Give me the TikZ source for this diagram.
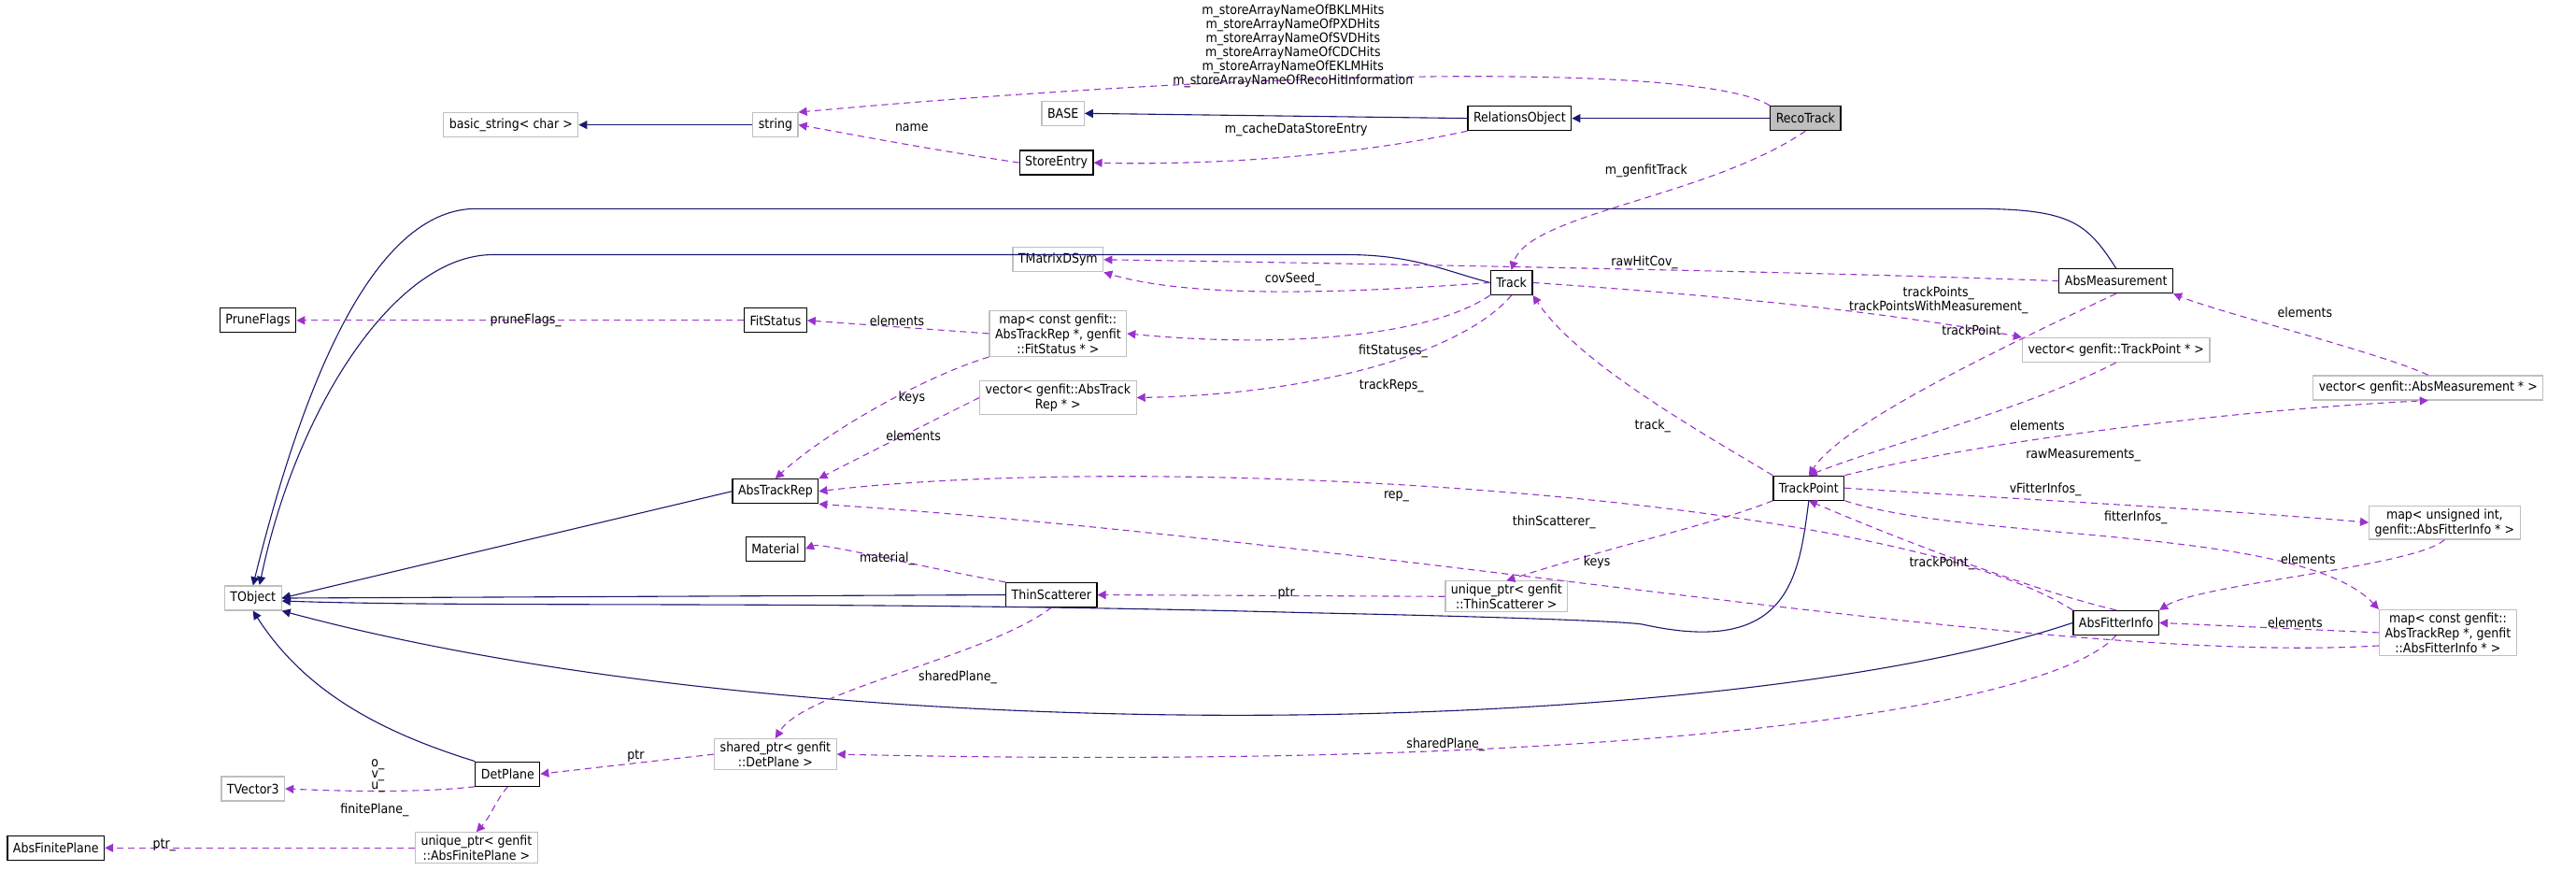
\documentclass[tikz,border=0pt]{standalone}
\usepackage{fontspec}
\setmainfont{DejaVu Sans Condensed}
\usetikzlibrary{arrows.meta}
\definecolor{inhc}{HTML}{191970}
\definecolor{memc}{HTML}{9A32CD}
\definecolor{gb}{HTML}{BFBFBF}
\begin{document}
\begin{tikzpicture}[x=1.7583pt,y=-1.7583pt,
  every node/.style={font=\fontsize{14}{16}\selectfont},
  box/.style={draw,line width=1.2pt,inner xsep=6pt,inner ysep=3pt,minimum height=26pt,fill=white,align=center},
  gbox/.style={box,draw=gb},
  bbox/.style={box,draw=black},
  inh/.style={draw=inhc,line width=1.1pt,-{Triangle[length=9pt,width=9pt]}},
  mem/.style={draw=memc,line width=1.1pt,dash pattern=on 7pt off 5pt,-{Triangle[length=9pt,width=9pt]}},
  lab/.style={fill=none,inner sep=1pt,align=center}]
\useasboundingbox (0,0) rectangle (1568,530);
% nodes
\node[gbox] (bstr) at (311,76) {basic\_string< char >};
\node[gbox] (str) at (472,76) {string};
\node[gbox] (base) at (647,69) {BASE};
\node[bbox] (se) at (643,99) {StoreEntry};
\node[bbox] (ro) at (925,72) {RelationsObject};
\node[bbox,fill=gb] (rt) at (1099,72) {RecoTrack};
\node[gbox] (tmd) at (644,158) {TMatrixDSym};
\node[bbox] (am) at (1288,171) {AbsMeasurement};
\node[bbox] (pf) at (157,195) {PruneFlags};
\node[bbox] (fs) at (472,195) {FitStatus};
\node[gbox] (mfs) at (644,203) {map< const genfit::\\AbsTrackRep *, genfit\\::FitStatus * >};
\node[bbox] (tr) at (920,172) {Track};
\node[gbox] (vtp) at (1288,213) {vector< genfit::TrackPoint * >};
\node[gbox] (vam) at (1478,236) {vector< genfit::AbsMeasurement * >};
\node[gbox] (vatr) at (644,242) {vector< genfit::AbsTrack\\Rep * >};
\node[bbox] (atr) at (472,299) {AbsTrackRep};
\node[bbox] (tp) at (1101,297) {TrackPoint};
\node[bbox] (mat) at (472,334) {Material};
\node[gbox] (tob) at (154,364) {TObject};
\node[bbox] (ts) at (640,362) {ThinScatterer};
\node[gbox] (uts) at (917,363) {unique\_ptr< genfit\\::ThinScatterer >};
\node[gbox] (mui) at (1488,318) {map< unsigned int,\\ genfit::AbsFitterInfo * >};
\node[bbox] (afi) at (1288,379) {AbsFitterInfo};
\node[gbox] (mcf) at (1490,385) {map< const genfit::\\AbsTrackRep *, genfit\\::AbsFitterInfo * >};
\node[gbox] (sdp) at (472,459) {shared\_ptr< genfit\\::DetPlane >};
\node[bbox] (dp) at (309,471) {DetPlane};
\node[gbox] (tv3) at (154,480) {TVector3};
\node[gbox] (ufp) at (290,516) {unique\_ptr< genfit\\::AbsFinitePlane >};
\node[bbox] (afp) at (34,516) {AbsFinitePlane};
% inheritance
\draw[inh] (str) -- (bstr);
\draw[inh] (ro.west) -- (base.east);
\draw[inh] (rt) -- (ro);
\draw[inh] (am.north) .. controls (1270,135) and (1260,127) .. (1200,127) -- (290,127) .. controls (250,127) and (200,170) .. (tob.north);
\draw[inh] (tr.west) .. controls (880,165) and (860,155) .. (820,155) -- (300,155) .. controls (240,155) and (180,250) .. (158,356);
\draw[inh] (atr.west) -- (tob.east);
\draw[inh] (ts.west) -- (tob.east);
\draw[inh] (tp.south) .. controls (1095,350) and (1090,400) .. (1000,380) .. controls (990,378) and (900,375) .. (800,373) .. controls (500,365) and (300,370) .. ([yshift=-3pt]tob.east);
\draw[inh] (afi.west) .. controls (1050,450) and (500,460) .. (tob.south east);
\draw[inh] (dp.north west) .. controls (230,445) and (185,420) .. (tob.south);
% members
\draw[mem] (rt.north west) .. controls (1040,40) and (800,40) .. (str.north east);
\node[lab,font=\fontsize{14}{12}\selectfont] at (787,28) {m\_storeArrayNameOfBKLMHits\\m\_storeArrayNameOfPXDHits\\m\_storeArrayNameOfSVDHits\\m\_storeArrayNameOfCDCHits\\m\_storeArrayNameOfEKLMHits\\m\_storeArrayNameOfRecoHitInformation};
\draw[mem] (ro.south west) .. controls (800,100) and (700,100) .. (se.east);
\node[lab] at (789,79) {m\_cacheDataStoreEntry};
\draw[mem] (se.west) .. controls (560,90) and (520,82) .. (str.east);
\node[lab] at (555,78) {name};
\draw[mem] (rt.south) .. controls (1040,120) and (930,130) .. (tr.north);
\node[lab] at (1002,104) {m\_genfitTrack};
\draw[mem] (am.west) .. controls (1100,165) and (800,160) .. (tmd.east);
\node[lab] at (1001,160) {rawHitCov\_};
\draw[mem] (tr.west) .. controls (800,180) and (720,180) .. (tmd.south east);
\node[lab] at (787,170) {covSeed\_};
\draw[mem] (tr.east) .. controls (1050,180) and (1150,190) .. (vtp.north west);
\node[lab,font=\fontsize{14}{13}\selectfont] at (1180,183) {trackPoints\_\\trackPointsWithMeasurement\_};
\draw[mem] (tr.south west) .. controls (870,205) and (780,212) .. (mfs.east);
\node[lab] at (848,214) {fitStatuses\_};
\draw[mem] (tr.south) .. controls (890,215) and (800,240) .. (vatr.east);
\node[lab] at (847,235) {trackReps\_};
\draw[mem] (mfs.west) -- (fs.east);
\node[lab] at (546,195) {elements};
\draw[mem] (mfs.south west) .. controls (560,230) and (500,265) .. (atr.north);
\node[lab] at (555,242) {keys};
\draw[mem] (vatr.west) .. controls (560,260) and (520,280) .. (atr.north east);
\node[lab] at (556,265) {elements};
\draw[mem] (fs.west) -- (pf.east);
\node[lab] at (320,195) {pruneFlags\_};
\draw[mem] (am.south) .. controls (1200,220) and (1120,260) .. (tp.north);
\node[lab] at (1200,201) {trackPoint};
\draw[mem] (vam.north) .. controls (1450,215) and (1350,190) .. (am.south east);
\node[lab] at (1403,190) {elements};
\draw[mem] (tp.north west) .. controls (1030,260) and (960,220) .. (tr.south east);
\node[lab] at (1006,259) {track\_};
\draw[mem] (vtp.south) .. controls (1230,250) and (1150,270) .. (tp.north);
\node[lab] at (1240,259) {elements};
\draw[mem] (tp.north east) .. controls (1200,270) and (1350,250) .. (vam.south);
\node[lab] at (1268,277) {rawMeasurements\_};
\draw[mem] (afi.north west) .. controls (1150,300) and (700,275) .. (atr.east);
\node[lab] at (850,302) {rep\_};
\draw[mem] (tp.south west) .. controls (1040,320) and (990,330) .. (uts.north);
\node[lab] at (946,318) {thinScatterer\_};
\draw[mem] (tp.east) .. controls (1250,305) and (1350,310) .. (mui.west);
\node[lab] at (1245,298) {vFitterInfos\_};
\draw[mem] (tp.south east) .. controls (1200,330) and (1400,320) .. (mcf.north west);
\node[lab] at (1300,315) {fitterInfos\_};
\draw[mem] (mui.south) .. controls (1470,345) and (1340,355) .. (afi.north east);
\node[lab] at (1405,340) {elements};
\draw[mem] (mcf.west) -- (afi.east);
\node[lab] at (1397,379) {elements};
\draw[mem] ([yshift=-14pt]mcf.west) .. controls (1250,405) and (850,330) .. (atr.south east);
\node[lab] at (972,342) {keys};
\draw[mem] (afi.north) .. controls (1240,360) and (1160,330) .. (tp.south);
\node[lab] at (1182,343) {trackPoint\_};
\draw[mem] (ts.north west) .. controls (560,345) and (500,330) .. (mat.east);
\node[lab] at (540,340) {material\_};
\draw[mem] (uts.west) -- (ts.east);
\node[lab] at (783,361) {ptr};
\draw[mem] (ts.south) .. controls (600,400) and (490,420) .. (sdp.north);
\node[lab] at (583,412) {sharedPlane\_};
\draw[mem] (afi.south) .. controls (1250,430) and (1000,470) .. (sdp.east);
\node[lab] at (880,453) {sharedPlane\_};
\draw[mem] (sdp.west) -- (dp.east);
\node[lab] at (387,460) {ptr};
\draw[mem] (dp.south west) .. controls (260,482) and (220,482) .. (tv3.east);
\node[lab,font=\fontsize{14}{12}\selectfont] at (230,472) {o\_\\v\_\\u\_};
\draw[mem] (dp.south) .. controls (300,490) and (300,495) .. (ufp.north);
\node[lab] at (228,493) {finitePlane\_};
\draw[mem] (ufp.west) -- (afp.east);
\node[lab] at (100,514) {ptr\_};
\end{tikzpicture}
\end{document}
